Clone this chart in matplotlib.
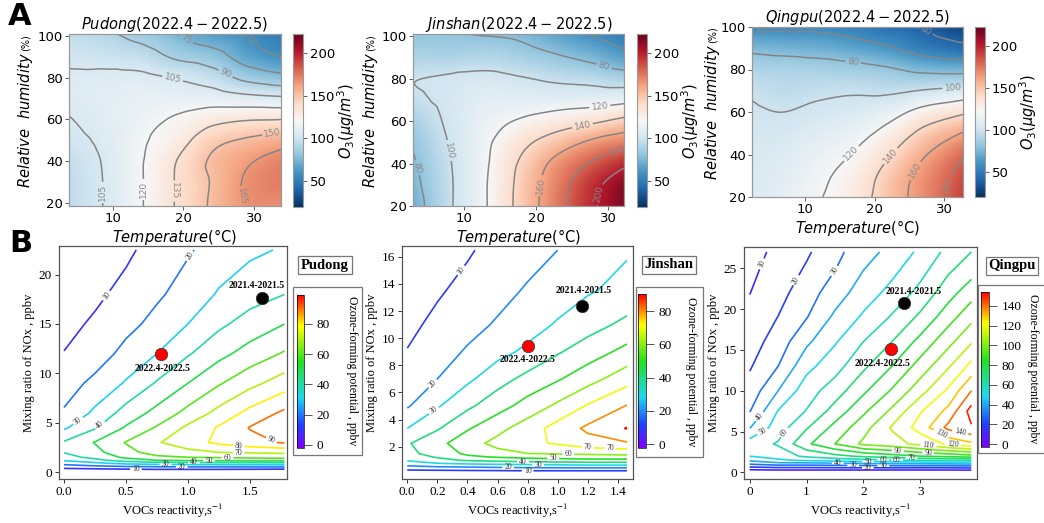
import numpy as np
import matplotlib
matplotlib.use('Agg')
import matplotlib.pyplot as plt
import matplotlib.tri as mtri
from matplotlib.colors import LinearSegmentedColormap, Normalize
from matplotlib.cm import ScalarMappable
from matplotlib.patches import Rectangle

W, H = 1044, 523
SERIF = 'Liberation Serif'

# ---------------- A: O3 response to temperature and humidity ----------------
temp_pd = [3.8, 9, 14, 19, 24, 29, 33.8]
rh_pd = [18.5, 30, 40, 50, 60, 70, 80, 90, 101]
o3_pd = [[95, 106, 119, 136, 152, 166, 168],
         [95, 106, 119, 136, 151, 167, 173],
         [97, 106.5, 119, 135, 152, 163, 171],
         [101, 108, 118, 128, 145, 152, 158],
         [104.5, 110, 115, 122, 130, 134, 135],
         [108, 110, 113, 113, 113, 110, 108],
         [107, 108, 108, 104, 98, 86, 80],
         [102, 100, 97, 88, 82, 68, 60],
         [97, 92, 85, 75, 65, 58, 50]]
lev_pd = [60, 75, 90, 105, 120, 135, 150, 165]

temp_js = [2.9, 8, 13, 18, 23, 28, 32.2]
rh_js = [20, 30, 40, 50, 60, 70, 80, 90, 101]
o3_js = [[72, 98, 119, 147, 174, 198, 215],
         [75, 98, 119, 146, 172, 195, 212],
         [78, 99, 118, 143, 166, 183, 196],
         [82, 101, 117, 135, 150, 164, 172],
         [88, 103, 114, 122, 130, 137, 145],
         [97, 104, 110, 110, 111, 112, 115],
         [99.5, 102, 104, 101, 97, 94, 90],
         [90, 90, 92, 88, 82, 75, 66],
         [81, 81, 79, 76, 67, 58, 50]]
lev_js = [60, 80, 100, 120, 140, 160, 180, 200]

temp_qp = [2.4, 7, 12, 17, 22, 27, 32.7]
rh_qp = [20, 30, 40, 50, 60, 70, 80, 90, 100]
o3_qp = [[107, 112, 119, 130, 150, 168, 190],
         [106, 110, 117, 127, 147, 166, 186],
         [105, 108, 114, 121, 138, 158, 178],
         [103, 104, 109, 114, 126, 145, 161],
         [101.5, 100, 103, 106, 113, 126, 137],
         [98, 95, 97, 98, 97, 101, 106],
         [90, 89, 88, 86, 82, 76, 74],
         [76, 74, 72, 68, 62, 52, 45],
         [56, 56, 56, 52, 45, 38, 28]]
lev_qp = [40, 60, 80, 100, 120, 140, 160, 180]

# ---------------- B: ozone-forming potential isopleths ----------------
voc_pd = [0, 0.25, 0.5, 0.75, 1.0, 1.25, 1.5, 1.78]
nox_pd = [0, 0.3, 0.6, 0.9, 1.2, 1.5, 2, 3, 4.5, 6, 9, 12, 15, 18, 22.5]
ofp_pd = [[0, 0, 0, 0, 0, 0, 0, 0],
          [8, 9, 10, 11, 11, 11, 10.5, 10],
          [16, 19, 21, 22, 23, 23, 23.5, 24],
          [24, 28, 33, 35, 36, 37, 37.5, 38],
          [31, 37, 45, 50, 52, 53, 54, 54],
          [36, 43, 52, 58, 60, 61, 62, 63],
          [40.5, 47, 57, 64, 67, 70, 71, 72],
          [41, 50.5, 60.5, 69, 76, 82, 87, 91],
          [28.5, 39, 51, 61, 72, 81, 90.5, 96],
          [21, 32, 44, 53, 63, 73, 83, 92],
          [15.5, 22.5, 31, 41, 50, 59, 67, 75],
          [10.3, 15, 23, 30, 39, 47, 54, 61],
          [7, 11.5, 17, 23, 30, 38, 44, 50],
          [5, 8, 13, 18.5, 24, 31, 36, 40],
          [3, 5, 8, 14, 19, 24, 28, 31]]
pts_pd = {'2021.4-2021.5': (1.6, 17.6), '2022.4-2022.5': (0.78, 12.0)}

voc_js = [0, 0.2, 0.4, 0.6, 0.8, 1.0, 1.2, 1.46]
nox_js = [0, 0.25, 0.5, 0.75, 1.0, 1.25, 1.5, 2.25, 3.35, 5, 7, 9, 11, 13.5, 16.5]
ofp_js = [[0, 0, 0, 0, 0, 0, 0, 0],
          [9, 9.5, 10, 10.5, 11, 11, 11, 11],
          [17, 19, 20, 21, 22, 22.5, 23, 23],
          [25, 29, 31, 32, 33, 34, 35, 35],
          [31, 37, 41, 43, 45, 46, 47, 47],
          [35, 41, 48, 51, 53, 54, 55, 56],
          [37.5, 44, 52, 57, 60, 61, 62, 63],
          [39, 47, 56, 63, 68, 71, 76, 79],
          [30, 39, 49, 57, 65, 74, 82, 90.5],
          [19, 29, 38, 46, 54, 62, 71, 80.5],
          [14, 20, 28, 36, 43, 49, 56, 66],
          [10.3, 16, 21, 27, 32, 39, 45, 53],
          [8, 12, 17, 21, 26, 31, 36, 42.5],
          [6, 9, 12.5, 17, 21, 25, 29, 33],
          [4, 7, 9, 13, 16.5, 20, 23, 29]]
pts_js = {'2021.4-2021.5': (1.16, 12.4), '2022.4-2022.5': (0.80, 9.45)}

voc_qp = [0, 0.5, 1.0, 1.5, 2.0, 2.5, 3.0, 3.5, 3.9]
nox_qp = [0, 0.3, 0.6, 0.9, 1.2, 1.5, 2, 3.5, 5.5, 7.5, 10, 13, 16, 19, 22, 25, 27]
ofp_qp = [[0, 0, 0, 0, 0, 0, 0, 0, 0],
          [9, 10, 10, 10, 10, 10, 10, 10, 10.5],
          [18, 20, 20, 20.5, 21, 21, 21, 21, 22],
          [27, 30, 30, 31, 32, 32.5, 33, 33, 34],
          [35, 40, 41, 42, 44, 45, 46, 47, 48],
          [42, 48, 52, 54, 57, 59, 61, 62, 63],
          [50, 55, 62, 67, 72, 76, 80, 83, 86],
          [55, 61, 78, 90, 102, 106, 113, 122, 128],
          [39.5, 55, 69, 83, 96, 111, 124, 143, 149],
          [29.5, 50.5, 60.5, 74, 88, 102, 119, 133, 154],
          [24, 40, 55.5, 65, 78, 91, 106, 122, 140],
          [19, 30, 47, 56, 68, 80, 94, 109, 123],
          [15.5, 24.5, 38, 49, 60, 70, 83, 97, 109],
          [12.5, 20.2, 29.5, 42, 51.5, 61, 72, 86, 97],
          [9.8, 16.5, 25.5, 35, 45, 53, 63, 76, 86],
          [8, 13.5, 21, 29.5, 39.5, 47, 56, 68, 75],
          [7, 12, 18.5, 27, 36, 43, 52, 63, 70]]
pts_qp = {'2021.4-2021.5': (2.72, 20.8), '2022.4-2022.5': (2.49, 15.1)}

# where the contour labels sit (layout only)
lab_pd = [(0.34, 17.9), (1.07, 21.4), (0.13, 4.9), (0.3, 4.6), (1.41, 2.6), (1.41, 1.9),
          (1.66, 2.9), (1.32, 1.35), (1.17, 1.2), (1.05, 1.0), (0.82, 0.8), (0.95, 0.5),
          (0.58, 0.27)]
lab_js = [(0.37, 14.9), (0.2, 6.3), (0.2, 4.3), (1.35, 2.2), (1.2, 1.8), (1.07, 1.4),
          (0.97, 1.15), (0.77, 0.95), (0.87, 0.65), (0.67, 0.45), (0.8, 0.22)]
lab_qp = [(0.26, 25.4), (0.85, 23.4), (1.55, 24.4), (0.2, 6.7), (0.2, 5.3), (0.55, 5.2),
          (3.73, 5.8), (3.38, 4.9), (3.58, 3.6), (3.14, 3.2), (2.61, 2.8), (3.14, 2.25),
          (2.85, 1.9), (2.35, 1.65), (2.59, 1.5), (2.08, 1.35), (1.55, 1.15), (2.35, 0.95),
          (1.82, 0.8), (2.08, 0.55)]


def box(l, t, r, b):
    return [l / W, 1 - b / H, (r - l) / W, (b - t) / H]


def grid_tri(xs, ys):
    X, Y = np.meshgrid(xs, ys)
    nx = len(xs)
    tris = []
    for j in range(len(ys) - 1):
        for i in range(nx - 1):
            a = j * nx + i
            tris += [[a, a + 1, a + nx + 1], [a, a + nx + 1, a + nx]]
    return mtri.Triangulation(X.ravel(), Y.ravel(), tris)


fig = plt.figure(figsize=(W / 100, H / 100), dpi=100)
o3_norm = Normalize(20, 222)


def draw_top(ax_px, cb_px, temp, rh, o3, levels, name, ypad):
    ax = fig.add_axes(box(*ax_px))
    tri = grid_tri(temp, rh)
    z = np.array(o3, float).ravel()
    interp = mtri.CubicTriInterpolator(tri, z, kind='geom')
    tri_f, z_f = mtri.UniformTriRefiner(tri).refine_field(z, triinterpolator=interp, subdiv=4)
    ax.tripcolor(tri_f, z_f, shading='gouraud', cmap='RdBu_r', norm=o3_norm)
    cs = ax.tricontour(tri_f, z_f, levels=levels, colors='#858585', linewidths=1.1)
    ax.clabel(cs, fmt='%d', fontsize=6.5, colors='#8a8a8a', inline_spacing=2)
    ax.set_xlim(temp[0], temp[-1])
    ax.set_ylim(rh[0], rh[-1])
    ax.set_xticks([10, 20, 30])
    ax.set_yticks([20, 40, 60, 80, 100])
    ax.tick_params(labelsize=9.5, length=3, width=0.6, color='#444', pad=1.5)
    for s in ax.spines.values():
        s.set_color('#999999')
        s.set_linewidth(0.9)
    ax.set_title(r'$%s(2022.4-2022.5)$' % name, fontsize=10.5, pad=2)
    ax.set_xlabel(r'$Temperature$(°C)', fontsize=10.5, labelpad=1)
    ax.set_ylabel(r'$Relative\ \ humidity$', fontsize=10.5, labelpad=ypad)
    ax.annotate('(%)', xy=(0.5, 1.0), xycoords=ax.yaxis.label, xytext=(0, 1),
                textcoords='offset points', rotation=90, ha='center', va='bottom',
                fontsize=7)
    cax = fig.add_axes(box(*cb_px))
    cb = fig.colorbar(ScalarMappable(norm=o3_norm, cmap='RdBu_r'), cax=cax,
                      ticks=[50, 100, 150, 200])
    cb.outline.set_edgecolor('#999999')
    cax.tick_params(labelsize=9.5, length=3, width=0.6, color='#444', pad=2)
    cb.set_label(r'$O_3(\mu g/m^3)$', fontsize=10.5, labelpad=0)


draw_top((69, 34, 281, 206), (293, 34, 303, 207), temp_pd, rh_pd, o3_pd, lev_pd, 'Pudong', 2)
draw_top((413, 34, 624, 206), (637, 34, 647, 207), temp_js, rh_js, o3_js, lev_js, 'Jinshan', 1)
draw_top((752, 27, 963, 197), (975, 27, 985, 197), temp_qp, rh_qp, o3_qp, lev_qp, 'Qingpu', -1)

ofp_cmap = LinearSegmentedColormap.from_list(
    'ofp', [(0.0, '#8000ff'), (0.15, '#2040ff'), (0.33, '#20d8f0'),
            (0.56, '#22e022'), (0.8, '#ffff00'), (1.0, '#ff0000')])


def draw_ekma(ax_px, cb_px, frame_px, voc, nox, ofp, levels, norm, cticks,
              xticks, yticks, xlim, ylim, pts, offs, labpos, name, name_xy, label_x):
    ax = fig.add_axes(box(*ax_px))
    X, Y = np.meshgrid(voc, nox)
    cs = ax.contour(X, Y, np.array(ofp, float), levels=levels, cmap=ofp_cmap,
                    norm=norm, linewidths=1.2)
    ax.set_xlim(*xlim)
    ax.set_ylim(*ylim)
    labels = ax.clabel(cs, fmt='%d', fontsize=5.5, colors='#333333', inline_spacing=1,
                       manual=labpos)
    for t in labels:
        t.set_fontfamily(SERIF)
    for (lab, (x, y)), col, off in zip(pts.items(), ['black', 'red'], offs):
        ax.scatter([x], [y], s=80, c=col, edgecolors='#333333', linewidths=0.5, zorder=5)
        ax.annotate(lab, (x, y), xytext=off, textcoords='offset points', ha='center',
                    va='center', fontsize=7, fontweight='bold', family=SERIF)
    ax.set_xticks(xticks)
    ax.set_yticks(yticks)
    ax.tick_params(labelsize=9.5, length=3, width=0.7, color='#333', pad=2,
                   labelfontfamily=SERIF)
    for s in ax.spines.values():
        s.set_color('#555555')
        s.set_linewidth(0.9)
    ax.set_xlabel(r'VOCs reactivity,s$^{-1}$', fontsize=9, family=SERIF,
                  math_fontfamily='stix', labelpad=3)
    ax.set_ylabel('Mixing ratio of NOx , ppbv', fontsize=9, family=SERIF, labelpad=3)
    cax = fig.add_axes(box(*cb_px))
    cb = fig.colorbar(ScalarMappable(norm=norm, cmap=ofp_cmap), cax=cax, ticks=cticks)
    cb.outline.set_linewidth(0.5)
    cax.tick_params(labelsize=9.5, length=6, width=0.7, color='#555', pad=3,
                    labelfontfamily=SERIF)
    l, t, r, b = frame_px
    fig.add_artist(Rectangle((l / W, 1 - b / H), (r - l) / W, (b - t) / H,
                             transform=fig.transFigure, fill=False, ec='#777777', lw=0.9))
    fig.text(label_x / W, 1 - (t + b) / 2 / H, 'Ozone-forming potential , ppbv',
             rotation=270, ha='center', va='center', fontsize=8.5, family=SERIF)
    fig.text(name_xy[0] / W, 1 - name_xy[1] / H, name, ha='center', va='center',
             fontsize=10.5, fontweight='bold', family=SERIF,
             bbox=dict(boxstyle='square,pad=0.18', fc='white', ec='#777777', lw=0.9))


draw_ekma((59, 246, 287, 479), (297, 295, 304, 448), (293, 287, 362, 455),
          voc_pd, nox_pd, ofp_pd, np.arange(10, 100, 10), Normalize(-2, 99),
          [0, 20, 40, 60, 80], [0.0, 0.5, 1.0, 1.5], [0, 5, 10, 15, 20],
          (-0.04, 1.8), (-0.7, 22.9), pts_pd, [(-4, 9), (1.5, -11)], lab_pd,
          'Pudong', (325, 265), 352)
draw_ekma((402, 246, 633, 479), (638, 294, 646, 448), (636, 287, 703, 457),
          voc_js, nox_js, ofp_js, np.arange(10, 100, 10), Normalize(-2.4, 90.3),
          [0, 20, 40, 60, 80], [0.0, 0.2, 0.4, 0.6, 0.8, 1.0, 1.2, 1.4],
          [2, 4, 6, 8, 10, 12, 14, 16], (-0.035, 1.5), (-0.38, 16.8), pts_js,
          [(1, 11), (0, -10)], lab_js, 'Jinshan', (669, 265), 691)
draw_ekma((744, 247, 977, 479), (981, 292, 989, 447), (978, 285, 1046, 453),
          voc_qp, nox_qp, ofp_qp, np.arange(10, 160, 10), Normalize(-3, 154),
          [0, 20, 40, 60, 80, 100, 120, 140], [0, 1, 2, 3], [0, 5, 10, 15, 20, 25],
          (-0.1, 4.0), (-0.8, 27.6), pts_qp, [(7, 8), (-6, -10)], lab_qp,
          'Qingpu', (1012, 266), 1033)

fig.text(8 / W, 1 - 2 / H, 'A', fontsize=22, fontweight='bold', va='top', ha='left')
fig.text(9 / W, 1 - 229 / H, 'B', fontsize=22, fontweight='bold', va='top', ha='left')

fig.savefig('out.png', dpi=100)
